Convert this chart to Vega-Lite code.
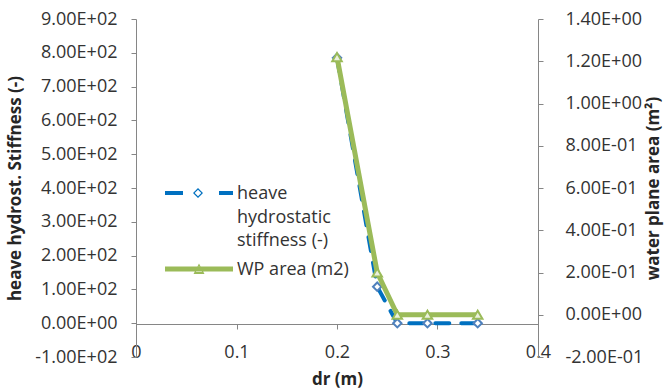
{
  "$schema": "https://vega.github.io/schema/vega-lite/v6.json",
  "width": 402,
  "height": 338,
  "autosize": "none",
  "padding": {"left": 136, "top": 19, "right": 127, "bottom": 35},
  "background": "white",
  "config": {
    "font": "Open Sans",
    "view": {"stroke": null},
    "axis": {
      "grid": false,
      "domainColor": "#868686",
      "tickColor": "#868686",
      "domainWidth": 1,
      "tickWidth": 1,
      "labelColor": "#333333",
      "labelFont": "Open Sans",
      "labelFontSize": 18,
      "titleFont": "Open Sans",
      "titleFontSize": 17,
      "titleFontWeight": "bold",
      "titleColor": "#262626",
      "labelFlush": false,
      "labelOverlap": false,
      "labelBound": false
    }
  },
  "data": {
    "values": [
      {"dr": 0.2, "stiffness": 785, "wp_area": 1.22},
      {"dr": 0.24, "stiffness": 108, "wp_area": 0.2},
      {"dr": 0.26, "stiffness": 0, "wp_area": 0},
      {"dr": 0.29, "stiffness": 0, "wp_area": 0},
      {"dr": 0.34, "stiffness": 0, "wp_area": 0}
    ]
  },
  "encoding": {
    "x": {
      "field": "dr",
      "type": "quantitative",
      "scale": {"domain": [0, 0.4], "nice": false, "zero": false},
      "axis": {
        "offset": -33,
        "values": [0, 0.1, 0.2, 0.3, 0.4],
        "format": ".1~f",
        "tickSize": 5,
        "labelPadding": 14,
        "title": "dr (m)",
        "titlePadding": 10
      }
    }
  },
  "layer": [
    {
      "encoding": {
        "y": {
          "field": "stiffness",
          "type": "quantitative",
          "scale": {"domain": [-100, 900], "nice": false, "zero": false},
          "axis": {
            "orient": "left",
            "title": "heave hydrost. Stiffness (-)",
            "values": [-100, 0, 100, 200, 300, 400, 500, 600, 700, 800, 900],
            "labelExpr": "replace(replace(replace(upper(format(datum.value, '.2e')), 'E+', 'E+0'), 'E-', 'E-0'), '\u2212', '-')",
            "tickSize": 5,
            "labelPadding": 14,
            "titlePadding": 10
          }
        }
      },
      "layer": [
        {
          "mark": {"type": "line", "color": "#0070C0", "strokeWidth": 4, "strokeDash": [14, 12], "strokeCap": "round"}
        },
        {
          "mark": {"type": "point", "shape": "diamond", "filled": true, "fill": "white", "stroke": "#4F81BD", "strokeWidth": 2, "size": 70, "opacity": 1}
        },
        {
          "transform": [{"fold": ["stiffness", "wp_area"], "as": ["series", "val"]}],
          "mark": {"type": "point", "filled": true, "opacity": 0},
          "encoding": {
            "color": {
              "field": "series",
              "type": "nominal",
              "scale": {"domain": ["stiffness", "wp_area"], "range": ["#0070C0", "#9BBB59"]},
              "legend": {
                "orient": "none", "legendX": 53, "legendY": 156, "title": null, "padding": 0,
                "symbolSize": 400, "symbolStrokeWidth": 0, "symbolOpacity": 1,
                "labelFont": "Open Sans", "labelFontSize": 18, "labelColor": "#333333", "labelOffset": 28,
                "labelBaseline": "top", "labelLimit": 0, "rowPadding": 1,
                "labelExpr": "datum.label == 'stiffness' ? ['heave', 'hydrostatic', 'stiffness (-)'] : 'WP area (m2)'",
                "encode": {"labels": {"update": {"lineHeight": {"value": 23.5}}}}
              }
            },
            "shape": {
              "field": "series",
              "type": "nominal",
              "scale": {
                "domain": ["stiffness", "wp_area"],
                "range": [
                  "M-3.4,0.6H-1.6V1H-3.4Z M2,0.6H3.4V1H2Z M-0.1,0.3L0.4,0.8L-0.1,1.3L-0.6,0.8Z M-0.1,0.47L-0.43,0.8L-0.1,1.13L0.23,0.8Z",
                  "M-3.4,0.56H3.4V1.04H-3.4Z M0,0.25L0.55,1.29L-0.55,1.29Z M0,0.47L-0.3,1.09L0.3,1.09Z"
                ]
              },
              "legend": {
                "orient": "none", "legendX": 53, "legendY": 156, "title": null, "padding": 0,
                "symbolSize": 400, "symbolStrokeWidth": 0, "symbolOpacity": 1,
                "labelFont": "Open Sans", "labelFontSize": 18, "labelColor": "#333333", "labelOffset": 28,
                "labelBaseline": "top", "labelLimit": 0, "rowPadding": 1,
                "labelExpr": "datum.label == 'stiffness' ? ['heave', 'hydrostatic', 'stiffness (-)'] : 'WP area (m2)'",
                "encode": {"labels": {"update": {"lineHeight": {"value": 23.5}}}}
              }
            }
          }
        }
      ]
    },
    {
      "encoding": {
        "y": {
          "field": "wp_area",
          "type": "quantitative",
          "scale": {"domain": [-0.2, 1.4], "nice": false, "zero": false},
          "axis": {
            "orient": "right",
            "title": "water plane area (m²)",
            "titleAngle": -90,
            "values": [-0.2, 0, 0.2, 0.4, 0.6, 0.8, 1, 1.2, 1.4],
            "labelExpr": "replace(replace(replace(upper(format(datum.value, '.2e')), 'E+', 'E+0'), 'E-', 'E-0'), '\u2212', '-')",
            "tickSize": 5,
            "labelPadding": 22,
            "titlePadding": 20
          }
        }
      },
      "layer": [
        {
          "mark": {"type": "line", "color": "#9BBB59", "strokeWidth": 5, "strokeJoin": "round"}
        },
        {
          "mark": {"type": "point", "shape": "triangle-up", "filled": true, "fill": "#EBF1DE", "stroke": "#9BBB59", "strokeWidth": 2, "size": 90, "opacity": 1}
        }
      ]
    }
  ],
  "resolve": {"scale": {"y": "independent"}}
}
